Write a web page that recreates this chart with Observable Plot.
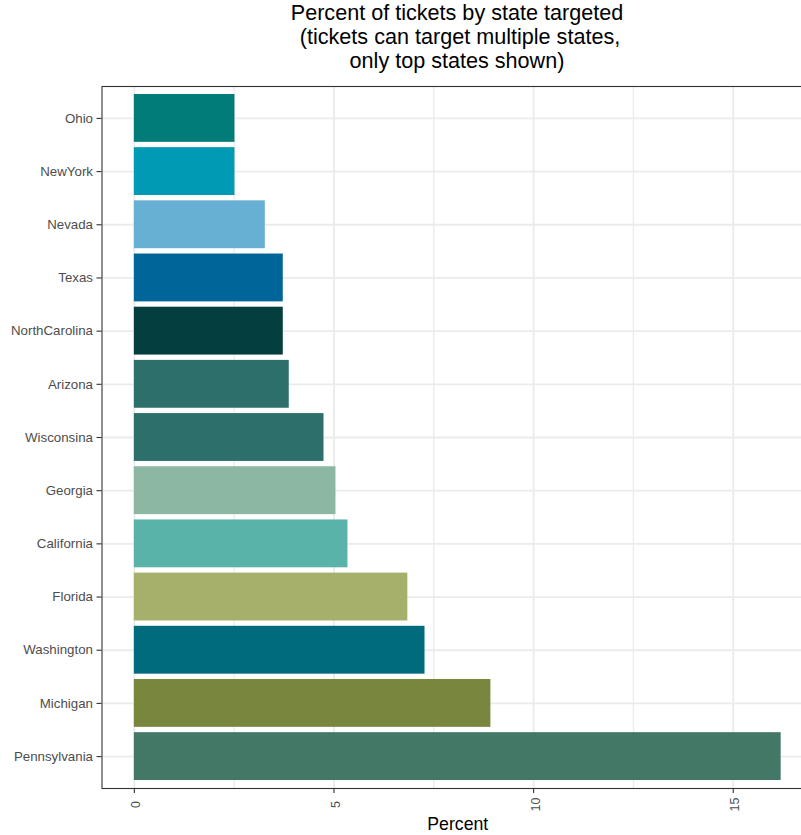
<!DOCTYPE html>
<html>
<head>
<meta charset="utf-8">
<script src="https://cdn.jsdelivr.net/npm/d3@7"></script>
<script src="https://cdn.jsdelivr.net/npm/@observablehq/plot@0.6"></script>
<style>
  html, body { margin: 0; padding: 0; background: #fff; overflow: hidden; }
  #title {
    box-sizing: border-box;
    width: 801px;
    padding-left: 113px;
    padding-top: 1px;
    text-align: center;
    font-family: "Liberation Sans", Arial, sans-serif;
    font-size: 21.6px;
    line-height: 24px;
    color: #000;
    white-space: pre;
    height: 73px;
  }
  #chart { width: 814px; }
  #chart svg { display: block; overflow: visible; max-width: none !important; width: 814px; height: 762px; }
</style>
</head>
<body>
<div id="title"></div>
<div id="chart"></div>
<script>
const titleLines = ["Percent of tickets by state targeted", " (tickets can target multiple states,", "only top states shown)"];
const states = ["Ohio", "NewYork", "Nevada", "Texas", "NorthCarolina", "Arizona", "Wisconsina", "Georgia", "California", "Florida", "Washington", "Michigan", "Pennsylvania"];
const percents = [2.52, 2.52, 3.28, 3.73, 3.73, 3.88, 4.75, 5.05, 5.35, 6.85, 7.28, 8.93, 16.2];
const barColors = ["#027c78", "#009ab4", "#67afd3", "#006699", "#043e3e", "#2d6f6b", "#2d6f6b", "#8bb7a3", "#5ab3a9", "#a6b06a", "#016b7e", "#78863e", "#437866"];
const xTicks = [0, 5, 10, 15];
const xMinorTicks = [2.5, 7.5, 12.5];
const xLabel = "Percent";

document.getElementById("title").textContent = titleLines.join("\n");

const data = states.map((s, i) => ({state: s, value: percents[i]}));
const maxV = d3.max(percents);

const plot = Plot.plot({
  width: 814,
  height: 762,
  marginLeft: 101.5,
  marginRight: 1,
  marginTop: 13,
  marginBottom: 47,
  style: {fontFamily: "'Liberation Sans', Arial, sans-serif", background: "#fff", maxWidth: "none"},
  x: {domain: [-0.05 * maxV, 1.05 * maxV], axis: null},
  y: {domain: states, paddingInner: 0.1, paddingOuter: 0.15, round: false, axis: null},
  color: {domain: states, range: barColors},
  marks: [
    Plot.gridX({ticks: xMinorTicks, stroke: "#ebebeb", strokeOpacity: 1, strokeWidth: 1.3}),
    Plot.gridX({ticks: xTicks, stroke: "#ebebeb", strokeOpacity: 1, strokeWidth: 1.8}),
    Plot.gridY({stroke: "#ebebeb", strokeOpacity: 1, strokeWidth: 1.8}),
    Plot.barX(data, {x: "value", y: "state", fill: "state"}),
    Plot.frame({stroke: "#333333", strokeWidth: 1.1}),
    Plot.axisY({tickSize: 5, tickPadding: 4, fontSize: 13.3, stroke: "#333333", fill: "#4d4d4d", strokeWidth: 1.1, label: null}),
    Plot.axisX({ticks: xTicks, tickSize: 5, stroke: "#333333", strokeWidth: 1.1, tickFormat: () => "", label: null}),
    Plot.text(xTicks, {x: d => d, text: d => `${d}`, frameAnchor: "bottom", rotate: -90, dy: 16, dx: 2, textAnchor: "middle", lineAnchor: "middle", fontSize: 12.5, fill: "#4d4d4d"}),
    Plot.text([xLabel], {text: d => d, frameAnchor: "bottom", dy: 36.3, lineAnchor: "middle", fontSize: 17.7, fill: "#000"})
  ]
});
document.getElementById("chart").appendChild(plot);
</script>
</body>
</html>
